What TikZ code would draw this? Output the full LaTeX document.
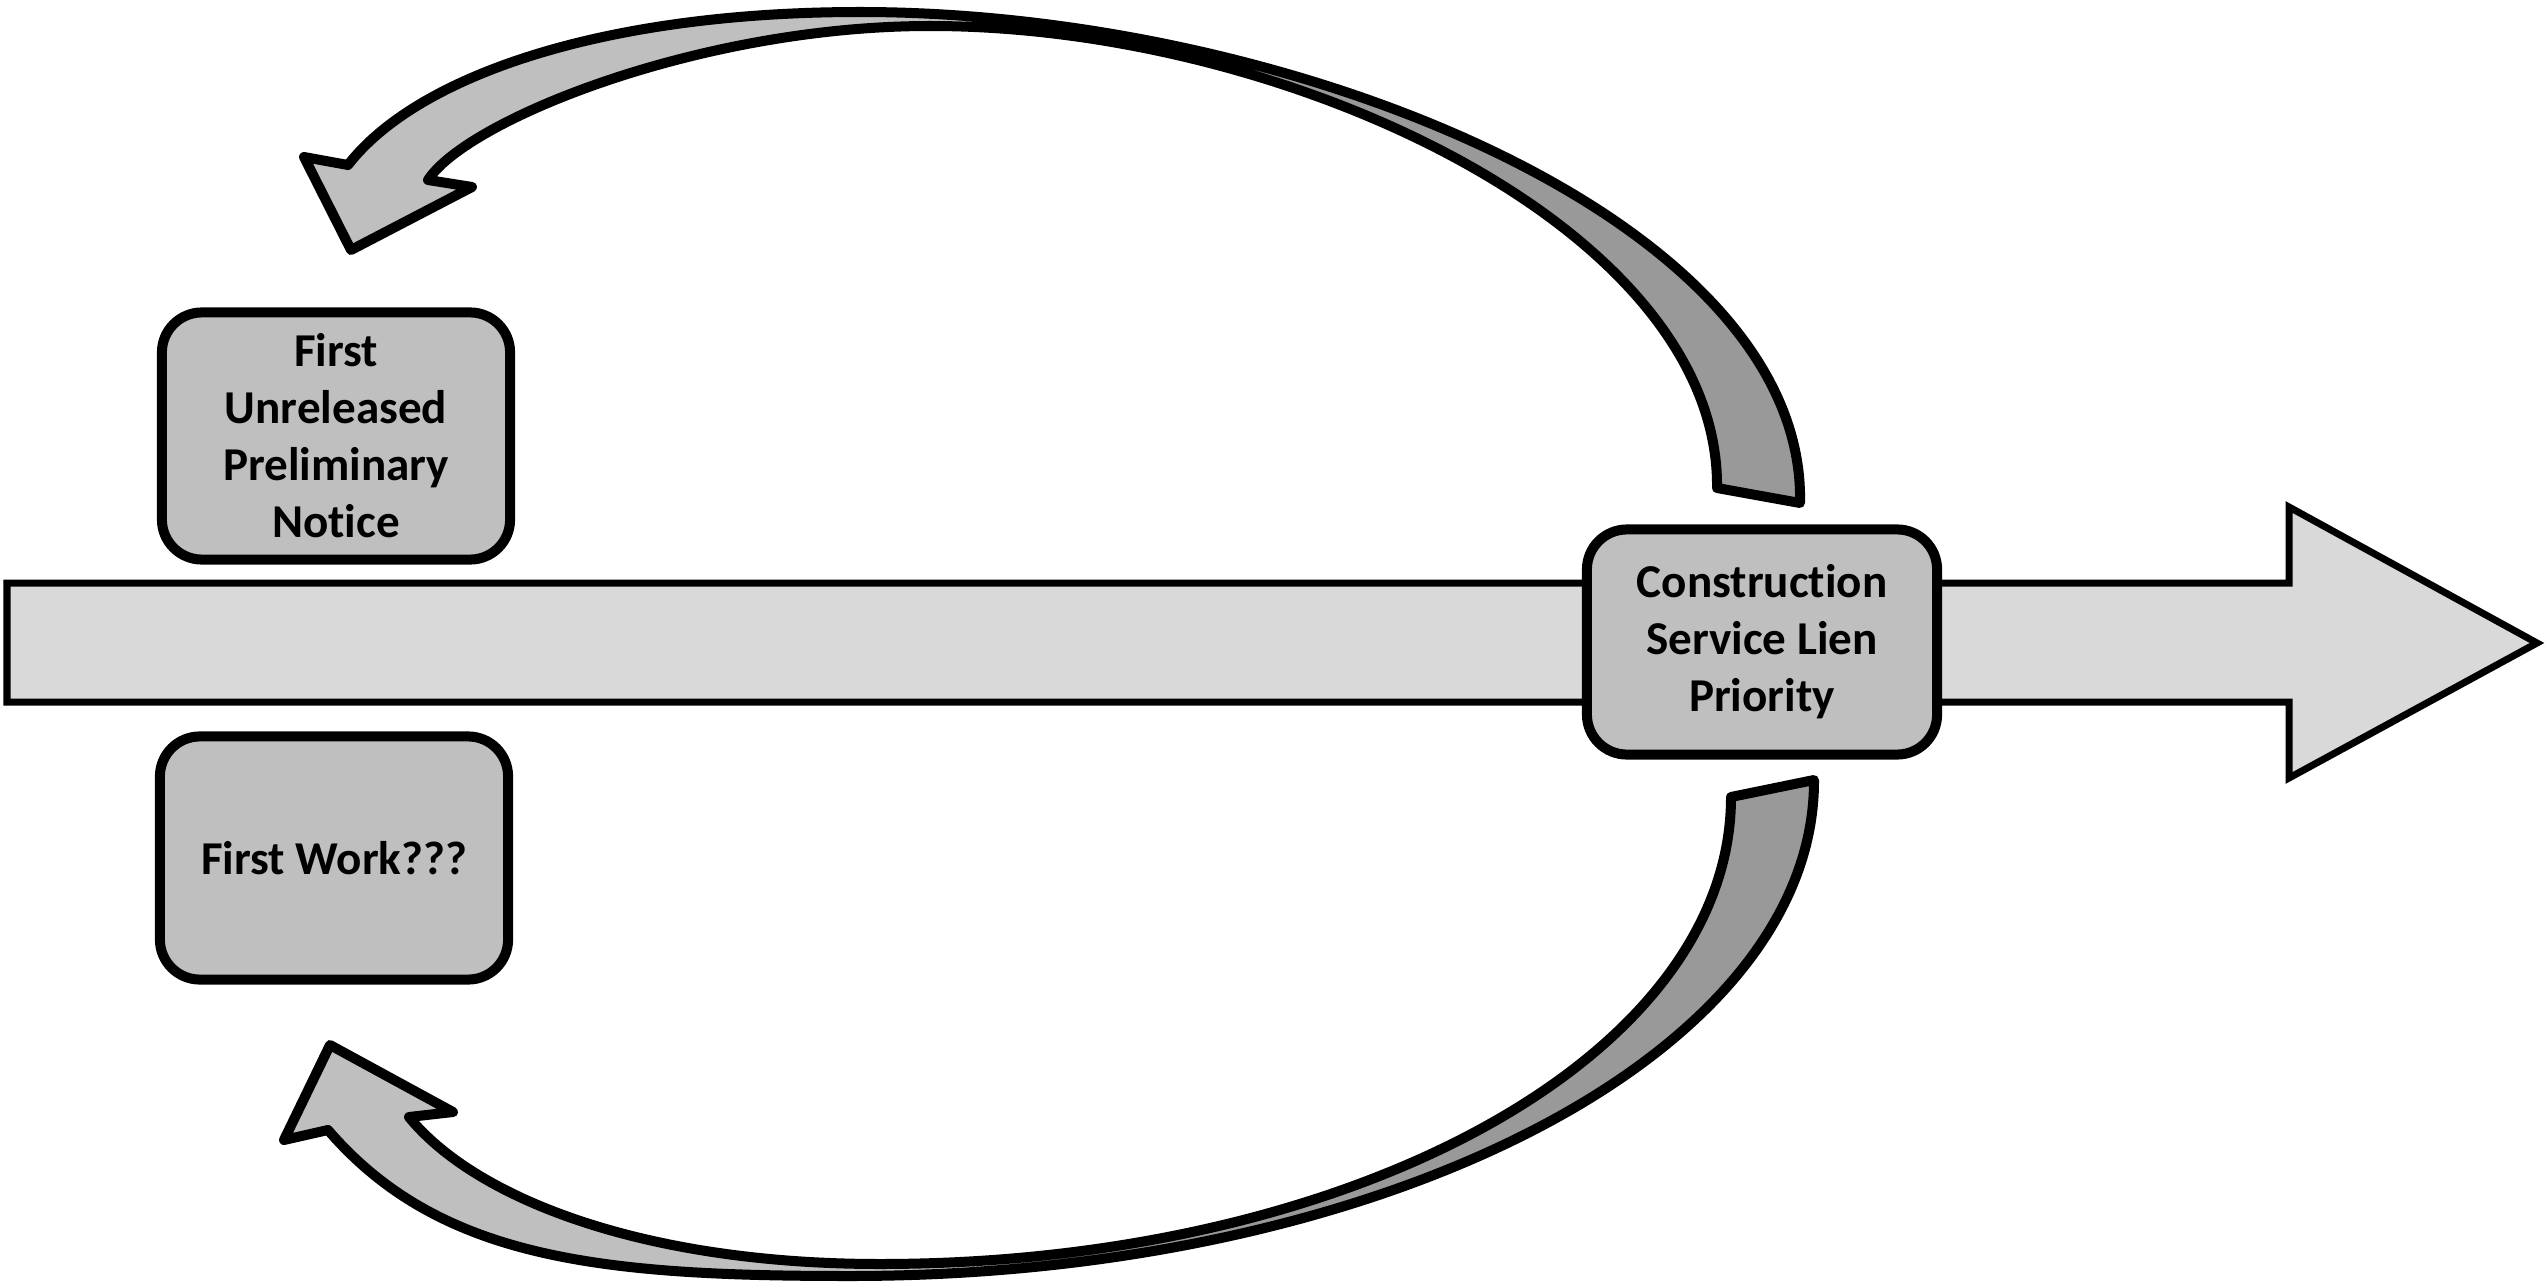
\documentclass[tikz,border=0pt]{standalone}
\usepackage{fontspec}
\setmainfont{Carlito}[Ligatures=NoCommon]
\definecolor{boxgray}{HTML}{BFBFBF}
\definecolor{bargray}{HTML}{D9D9D9}
\definecolor{backgray}{HTML}{999999}
\tikzset{
  box/.style={draw=black, line width=0.1cm, fill=boxgray, rounded corners=0.4cm,
    align=center, inner sep=0pt, font={\fontsize{13.4pt}{16.2pt}\selectfont\bfseries}},
  bar/.style={draw=black, line width=0.07cm, fill=bargray},
  frontfill/.style={fill=boxgray},
  backfill/.style={fill=backgray},
  ribbon/.style={draw=black, line width=0.1cm, line join=round},
}
\newcommand\myTopRibbon{(428,180) -- (472,187) -- (351,250) -- (304,157) -- (348,165)
  .. controls (416,77) and (600,12) .. (860,12)
  .. controls (1290,12) and (1806,220) .. (1800,503)
  -- (1717,488)
  .. controls (1720,230) and (1290,26) .. (930,26)
  .. controls (700,26) and (467,120) .. (428,180) -- cycle}
\newcommand\myBotRibbon{(409,1117) -- (453,1112) -- (330,1045) -- (284,1140) -- (328,1130)
  .. controls (439,1259) and (600,1276) .. (850,1276)
  .. controls (1383,1276) and (1815,1054) .. (1814,780)
  -- (1731,797)
  .. controls (1731,1058) and (1350,1264) .. (880,1264)
  .. controls (640,1264) and (474,1197) .. (409,1117) -- cycle}
\begin{document}
\begin{tikzpicture}[x=0.01cm, y=-0.01cm]
\fill[white] (0,0) rectangle (2545,1285);
\useasboundingbox (0,0) rectangle (2545,1285);

% main horizontal arrow
\draw[bar] (7,583) -- (2289,583) -- (2289,507) -- (2537,643) -- (2289,778)
  -- (2289,702) -- (7,702) -- cycle;

% boxes
\node[box, minimum width=3.48cm, minimum height=2.47cm] (notice) at (336,436)
  {First\\Unreleased\\Preliminary\\Notice};
\node[box, minimum width=3.48cm, minimum height=2.43cm] (work) at (334,858)
  {First Work???};
\node[box, minimum width=3.50cm, minimum height=2.25cm] (lien) at (1762,642)
  {Construction\\Service Lien\\Priority};

% ---- top curved arrow ----
\begin{scope}
  \clip (0,0) rectangle (1060,640);
  \fill[frontfill] \myTopRibbon;
\end{scope}
\begin{scope}
  \clip (1060,0) rectangle (2545,640);
  \fill[backfill] \myTopRibbon;
\end{scope}
\draw[ribbon] \myTopRibbon;

% ---- bottom curved arrow ----
\begin{scope}
  \clip (0,645) rectangle (1060,1285);
  \fill[frontfill] \myBotRibbon;
\end{scope}
\begin{scope}
  \clip (1060,645) rectangle (2545,1285);
  \fill[backfill] \myBotRibbon;
\end{scope}
\draw[ribbon] \myBotRibbon;
\end{tikzpicture}
\end{document}
